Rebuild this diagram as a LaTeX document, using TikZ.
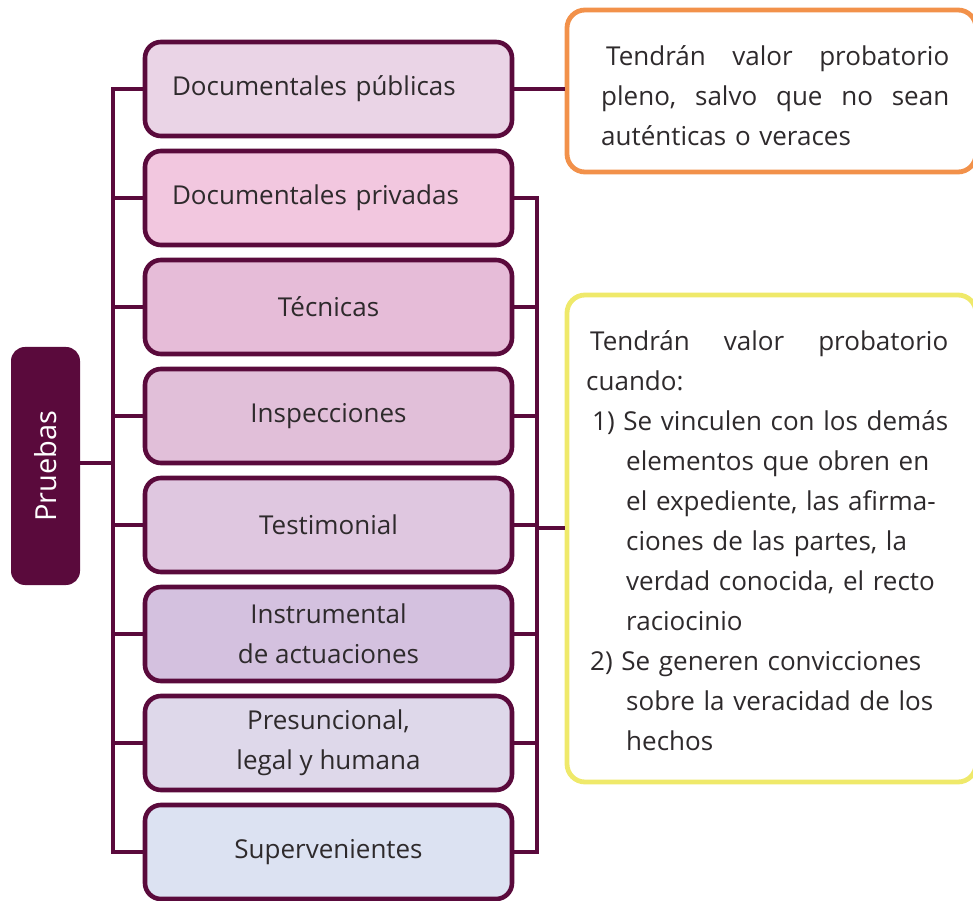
\documentclass[tikz,border=0pt]{standalone}
\usepackage{fontspec}
\setmainfont{Open Sans}
\definecolor{plum}{HTML}{5A0A3C}
\definecolor{txtc}{HTML}{2E2A2C}
\definecolor{orng}{HTML}{F2914A}
\definecolor{ylw}{HTML}{EFE96A}
\definecolor{fa}{HTML}{EAD4E6}
\definecolor{fb}{HTML}{F2C7DF}
\definecolor{fc}{HTML}{E6BCD8}
\definecolor{fd}{HTML}{E1BFD9}
\definecolor{fe}{HTML}{DFC7E0}
\definecolor{ff}{HTML}{D4C1DF}
\definecolor{fg}{HTML}{DED8EA}
\definecolor{fh}{HTML}{DCE2F2}
\begin{document}
\begin{tikzpicture}[x=1pt,y=1pt,
  tf/.style={font=\fontsize{26}{40}\selectfont, text=txtc},
  pbox/.style={tf, draw=plum, line width=4.6pt, rounded corners=16pt,
    minimum width=367pt, minimum height=94pt, align=center, inner sep=0pt},
  lbox/.style={pbox, text width=313pt, align=left},
  conn/.style={draw=plum, line width=4.8pt},
  note/.style={line width=4.8pt, rounded corners=18pt, minimum width=409pt, fill=white}]
\useasboundingbox (0,0) rectangle (973,900);
% left column boxes
\node[lbox, fill=fa] (b1) at (328.5,811) {Documentales públicas};
\node[lbox, fill=fb] (b2) at (328.5,702) {Documentales privadas};
\node[pbox, fill=fc] (b3) at (328.5,593) {Técnicas};
\node[pbox, fill=fd] (b4) at (328.5,484) {Inspecciones};
\node[pbox, fill=fe] (b5) at (328.5,375) {Testimonial};
\node[pbox, fill=ff] (b6) at (328.5,266) {Instrumental\\de actuaciones};
\node[pbox, fill=fg] (b7) at (328.5,157) {Presuncional,\\legal y humana};
\node[pbox, fill=fh] (b8) at (328.5,48) {Supervenientes};
% Pruebas
\node[fill=plum, rounded corners=14pt, minimum width=69pt, minimum height=238pt, inner sep=0pt] (pr) at (45.5,434) {};
\node[rotate=90, text=white, font=\fontsize{29}{32}\selectfont] (prt) at (pr.center) {Pruebas};
% notes
\node[note, draw=orng, minimum height=162pt] (ob) at (771.5,809) {};
\node[note, draw=ylw, minimum height=487pt] (yb) at (771.5,361.5) {};
% trunks
\coordinate (lb) at (113,48);
\coordinate (rb) at (537,48);
\coordinate (yc) at (537,372);
\foreach \b in {b2,b3,b4,b5,b6,b7} \draw[conn] (\b.west) -- (\b.west -| lb);
\draw[conn] (pr.east |- 0,437) -- (lb |- 0,437);
\draw[conn, line join=miter] (b1.west) -| (lb) -- (b8.west);
\foreach \b in {b3,b4,b5,b6,b7} \draw[conn] (\b.east) -- (\b.east -| rb);
\draw[conn] (yc) -- (yc -| yb.west);
\draw[conn, line join=miter] (b2.east) -| (rb) -- (b8.east);
\draw[conn] (b1.east) -- (b1.east -| ob.west);
% note texts
\node[tf, text width=348pt, align=left, anchor=north west, inner sep=0pt] (ot) at (601,855)
 {\makebox[348pt][l]{\hspace*{5pt}Tendrán\hfill valor\hfill probatorio}\\
  \makebox[348pt][l]{pleno,\hfill salvo\hfill que\hfill no\hfill sean}\\
  auténticas o veraces};
\node[tf, text width=364pt, align=left, anchor=north west, inner sep=0pt] (yt) at (586,570)
 {\makebox[362pt][l]{\hspace*{4pt}Tendrán\hfill valor\hfill probatorio}\\
  cuando:\\
  \hspace*{6pt}1) Se vinculen con los demás\\
  \hspace*{40pt}elementos que obren en\\
  \hspace*{40pt}el expediente, las afirma-\\
  \hspace*{40pt}ciones de las partes, la\\
  \hspace*{40pt}verdad conocida, el recto\\
  \hspace*{40pt}raciocinio\\
  \hspace*{4pt}2) Se generen convicciones\\
  \hspace*{40pt}sobre la veracidad de los\\
  \hspace*{40pt}hechos};
\end{tikzpicture}
\end{document}
